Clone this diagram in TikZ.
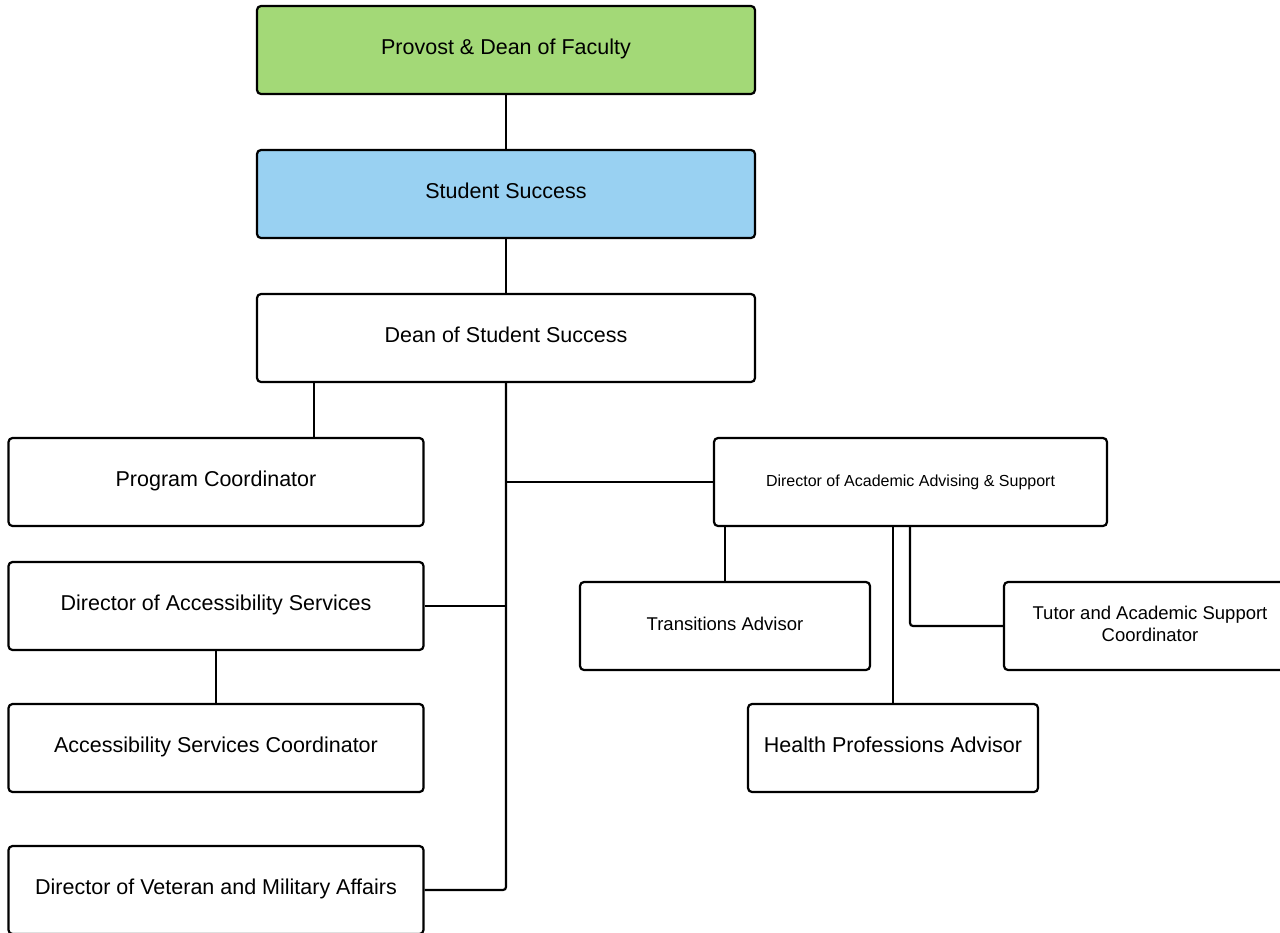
\documentclass[tikz,border=0pt]{standalone}
\usepackage{fontspec}
\setmainfont{Liberation Sans}
\definecolor{provostgreen}{RGB}{163,217,119}
\definecolor{successblue}{RGB}{153,209,242}
\tikzset{
  post/.style={draw=black, line width=2.2pt, rounded corners=4pt, fill=white,
    minimum width=#1, minimum height=88pt, inner sep=0pt, align=center,
    font=\fontsize{21.5}{26}\selectfont, text height=15pt, text depth=6pt},
  post/.default=498pt,
  smallpost/.style={post=#1, font=\fontsize{18.5}{22}\selectfont},
  link/.style={line width=2.2pt}
}

\begin{document}
\begin{tikzpicture}[x=1pt, y=-1pt]
\useasboundingbox (0,0) rectangle (1280,932);
% top of the chart
\node[post, fill=provostgreen] (provost) at (506,50) {Provost \& Dean of Faculty};
\node[post, fill=successblue] (success) at (506,194) {Student Success};
\node[post] (dean) at (506,338) {Dean of Student Success};
% left column
\node[post=415pt] (progcoord) at (216,482) {Program Coordinator};
\node[post=415pt] (access) at (216,606) {Director of Accessibility Services};
\node[post=415pt] (accesscoord) at (216,748) {Accessibility Services Coordinator};
\node[post=415pt] (veteran) at (216,890) {Director of Veteran and Military Affairs};
% advising branch
\node[post=393pt, font=\fontsize{16}{19}\selectfont] (advising) at (910.5,482) {Director of Academic Advising \& Support};
\node[smallpost=290pt] (transitions) at (725,626) {Transitions Advisor};
\node[smallpost=292pt, text height=40pt, text depth=10pt, font=\fontsize{18.5}{22}\selectfont] (tutor) at (1150,626) {Tutor and Academic Support\\Coordinator};
\node[post=290pt] (health) at (893,748) {Health Professions Advisor};

\draw[link] (provost) -- (success);
\draw[link] (success) -- (dean);
\draw[link] ([xshift=98pt]progcoord.north) -- ([xshift=98pt]progcoord.north |- dean.south);
\draw[link, rounded corners=3pt] (dean.south) |- (veteran.east);
\draw[link] (access.east) -- (access.east -| dean.south);
\draw[link] (advising.west) -- (advising.west -| dean.south);
\draw[link] (access) -- (accesscoord);
\draw[link] (transitions.north) -- (transitions.north |- advising.south);
\draw[link] (health.north) -- (health.north |- advising.south);
\draw[link, rounded corners=3pt] ([xshift=-0.5pt]advising.south) |- (tutor.west);
\end{tikzpicture}
\end{document}
